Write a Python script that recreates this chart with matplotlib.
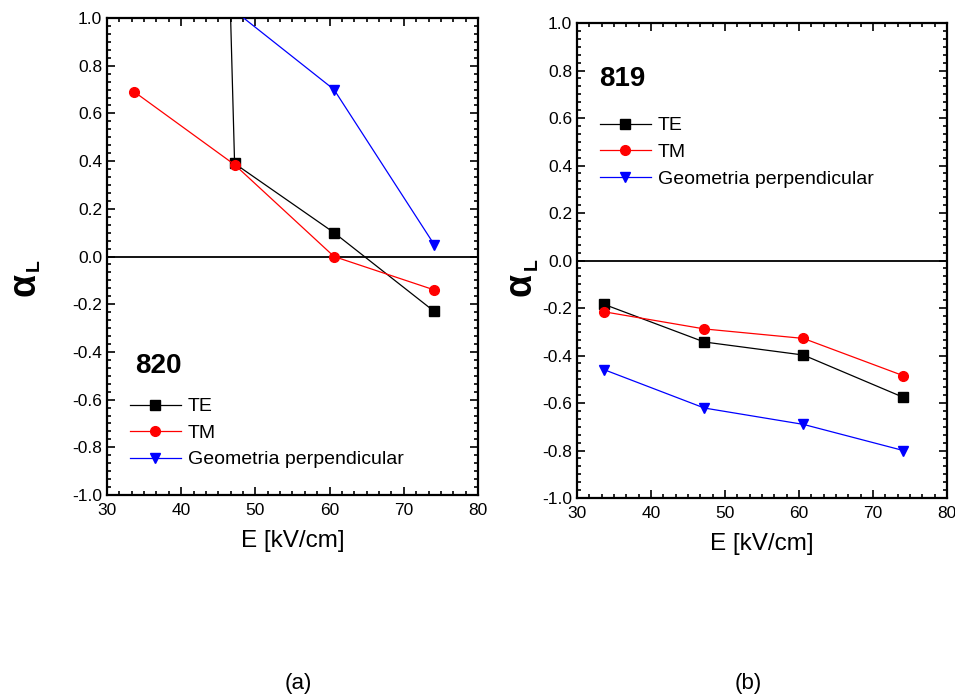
import numpy as np
import matplotlib.pyplot as plt
from matplotlib.ticker import MultipleLocator

plt.rcParams['font.family'] = ['Liberation Sans', 'DejaVu Sans']

# campo electrico (kV/cm)
E = [33.7, 47.2, 60.6, 74.1]

# muestra 820
te_820 = [15.8, 0.39, 0.10, -0.23]
tm_820 = [0.69, 0.385, 0.0, -0.14]
perp_820 = [1.25, 1.03, 0.70, 0.05]

# muestra 819
te_819 = [-0.185, -0.343, -0.398, -0.576]
tm_819 = [-0.216, -0.288, -0.328, -0.485]
perp_819 = [-0.46, -0.621, -0.69, -0.80]

labels = ['TE', 'TM', 'Geometria perpendicular']
colors = ['black', 'red', 'blue']
markers = ['s', 'o', 'v']
msizes = [6.5, 7, 7.5]


def panel(ax, series, name, name_pos, leg_pos):
    ax.axhline(0, color='black', lw=1.3, zorder=1)
    for y, lab, c, m, ms in zip(series, labels, colors, markers, msizes):
        ax.plot(E, y, color=c, lw=0.9, marker=m, ms=ms, label=lab, zorder=3)
    ax.set_xlim(30, 80)
    ax.set_ylim(-1.0, 1.0)
    ax.xaxis.set_major_locator(MultipleLocator(10))
    ax.xaxis.set_minor_locator(MultipleLocator(10 / 6))
    ax.yaxis.set_major_locator(MultipleLocator(0.2))
    ax.yaxis.set_minor_locator(MultipleLocator(0.2 / 6))
    ax.tick_params(which='both', direction='in', top=True, right=True, labelsize=12.5, width=1.2)
    ax.tick_params(which='major', length=6)
    ax.tick_params(which='minor', length=3)
    ax.tick_params(axis='x', pad=5.5)
    ax.yaxis.set_major_formatter(plt.FuncFormatter(lambda v, p: f'{v:.1f}'.replace('-0.0', '0.0')))
    for s in ax.spines.values():
        s.set_linewidth(1.6)
    ax.set_xlabel('E [kV/cm]', fontsize=17.5, labelpad=9)
    ax.text(name_pos[0], name_pos[1], name, transform=ax.transAxes, fontsize=20,
            fontweight='bold', va='center', ha='left')
    ax.legend(loc='upper left', bbox_to_anchor=leg_pos, frameon=False, fontsize=14,
              handlelength=2.6, handletextpad=0.36, labelspacing=0.46,
              borderaxespad=0, borderpad=0)


fig = plt.figure(figsize=(9.55, 6.98), dpi=100)
ax1 = fig.add_axes([0.112, 0.2908, 0.3885, 0.6834])
ax2 = fig.add_axes([0.6042, 0.2865, 0.3874, 0.6805])

panel(ax1, [te_820, tm_820, perp_820], '820', (0.076, 0.27), (0.062, 0.204))
panel(ax2, [te_819, tm_819, perp_819], '819', (0.059, 0.882), (0.062, 0.8025))

# alpha_L
for xa, ya, xl, yl in [(0.026, 0.593, 0.0355, 0.620), (0.5455, 0.592, 0.557, 0.622)]:
    fig.text(xa, ya, 'α', rotation=90, fontsize=27, fontweight='bold', ha='center', va='center')
    fig.text(xl, yl, 'L', rotation=90, fontsize=14, fontweight='bold', ha='center', va='center')

fig.text(0.312, 0.021, '(a)', fontsize=16, ha='center', va='center')
fig.text(0.784, 0.021, '(b)', fontsize=16, ha='center', va='center')

fig.savefig('out.png', dpi=100)
